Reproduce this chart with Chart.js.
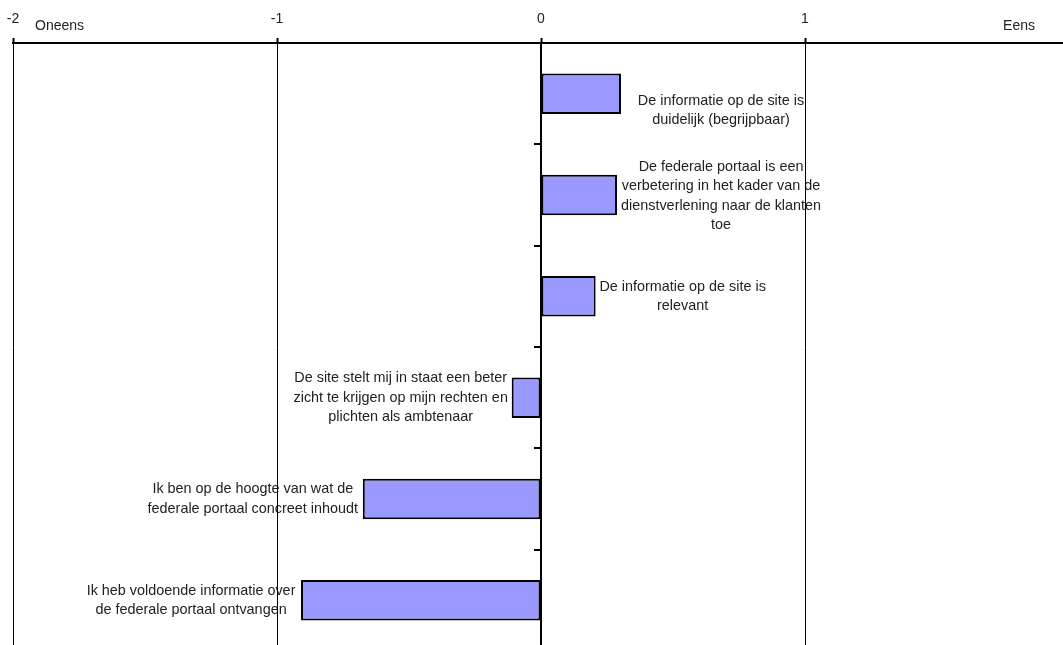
<!DOCTYPE html>
<html>
<head>
<meta charset="utf-8">
<script src="https://cdn.jsdelivr.net/npm/chart.js@4/dist/chart.umd.min.js"></script>
<style>
  html, body { margin: 0; padding: 0; background: #fff; overflow: hidden; }
  #wrap { width: 1063px; height: 645px; overflow: hidden; position: relative; }
  canvas { display: block; }
</style>
</head>
<body>
<div id="wrap"><canvas id="chart" width="1080" height="660"></canvas></div>
<script>
// Statements (each one a category, split into the lines it is written on)
const statements = [
  ['De informatie op de site is', 'duidelijk (begrijpbaar)'],
  ['De federale portaal is een', 'verbetering in het kader van de', 'dienstverlening naar de klanten', 'toe'],
  ['De informatie op de site is', 'relevant'],
  ['De site stelt mij in staat een beter', 'zicht te krijgen op mijn rechten en', 'plichten als ambtenaar'],
  ['Ik ben op de hoogte van wat de', 'federale portaal concreet inhoudt'],
  ['Ik heb voldoende informatie over', 'de federale portaal ontvangen']
];

// Mean score per statement on the -2 (oneens) .. 2 (eens) scale
const scores = [0.303, 0.288, 0.207, -0.111, -0.675, -0.909];

// Scale ticks and the two end captions
const tickValues = [-2, -1, 0, 1, 2];
const disagreeCaption = 'Oneens';
const agreeCaption = 'Eens';

// Where each statement text sits relative to the end of its bar (px)
const labelShiftX = [100, 104, 87, -111, -110, -110];
const labelShiftY = [17, 1, 0, 0, 0, 0];

const fontFamily = '"Liberation Sans", Arial, sans-serif';
const textFont = '14.4px ' + fontFamily;
const textColor = '#222';

// Statement texts go underneath the grid lines and bars
const statementLabels = {
  id: 'statementLabels',
  beforeDraw(chart) {
    const ctx = chart.ctx;
    const xs = chart.scales.x, ys = chart.scales.y;
    ctx.save();
    ctx.fillStyle = '#fff';
    ctx.fillRect(0, 0, chart.width, chart.height);
    ctx.font = textFont;
    ctx.fillStyle = textColor;
    ctx.textAlign = 'center';
    ctx.textBaseline = 'middle';
    const lineH = 19.5;
    statements.forEach((lines, i) => {
      const cx = xs.getPixelForValue(scores[i]) + labelShiftX[i];
      const cy = ys.getPixelForValue(i) + labelShiftY[i];
      const top = cy - (lines.length - 1) * lineH / 2;
      lines.forEach((t, j) => ctx.fillText(t, cx, top + j * lineH));
    });
    // captions at both ends of the scale
    ctx.font = '14px ' + fontFamily;
    ctx.textBaseline = 'alphabetic';
    ctx.textAlign = 'left';
    ctx.fillText(disagreeCaption, 35, 30);
    ctx.textAlign = 'right';
    ctx.fillText(agreeCaption, 1035, 30);
    ctx.restore();
  }
};

new Chart(document.getElementById('chart'), {
  type: 'bar',
  data: {
    labels: statements,
    datasets: [{
      data: scores,
      backgroundColor: '#9999ff',
      borderColor: '#000',
      borderWidth: 2,
      borderSkipped: false,
      barPercentage: 0.4,
      categoryPercentage: 1
    }]
  },
  options: {
    indexAxis: 'y',
    responsive: false,
    animation: false,
    devicePixelRatio: 1,
    layout: { padding: { left: 13, right: 11, top: 0, bottom: 9 } },
    plugins: { legend: { display: false }, tooltip: { enabled: false } },
    scales: {
      x: {
        position: 'top',
        min: -2,
        max: 2,
        afterBuildTicks(scale) { scale.ticks = tickValues.map(v => ({ value: v })); },
        afterFit(scale) {
          scale.height = 43;
          scale.paddingLeft = 0;
          scale.paddingRight = 0;
        },
        ticks: {
          color: '#222',
          font: { family: fontFamily, size: 14 },
          padding: 10,
          maxRotation: 0,
          autoSkip: false
        },
        grid: {
          color: '#000',
          lineWidth: 1,
          tickLength: 5,
          tickWidth: 2,
          tickColor: '#000'
        },
        border: { display: true, color: '#000', width: 2 }
      },
      y: {
        position: { x: 0 },
        ticks: { display: false },
        grid: {
          offset: true,
          drawOnChartArea: false,
          drawTicks: true,
          tickLength: 6,
          lineWidth: 2,
          color: '#000'
        },
        border: { display: true, color: '#000', width: 2 }
      }
    }
  },
  plugins: [statementLabels]
});
</script>
</body>
</html>
